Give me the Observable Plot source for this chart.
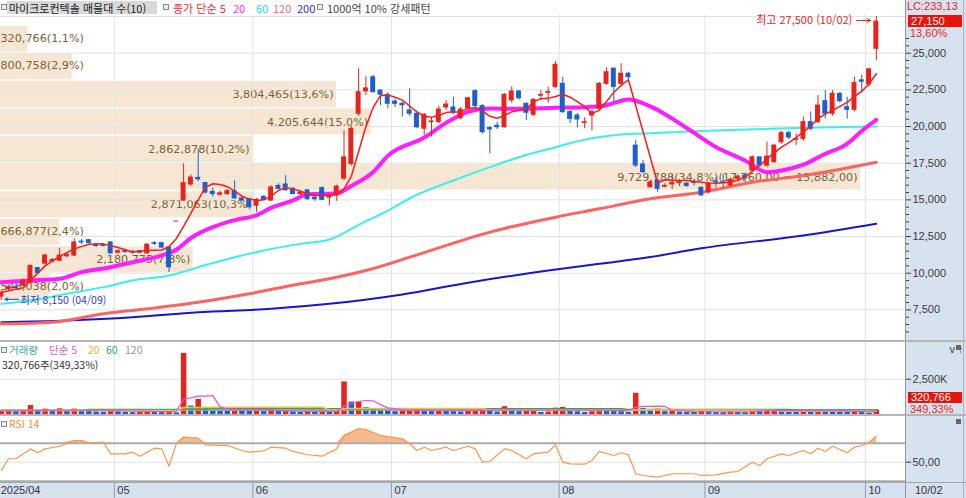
<!DOCTYPE html>
<html lang="ko">
<head>
<meta charset="utf-8">
<script src="https://cdn.jsdelivr.net/npm/d3@7"></script>
<script src="https://cdn.jsdelivr.net/npm/@observablehq/plot@0.6"></script>
<style>
html,body{margin:0;padding:0;background:#fff;}
#wrap{position:relative;width:966px;height:498px;overflow:hidden;background:#fff;font-family:'Liberation Sans',Arial,sans-serif;}
#wrap > *{position:absolute;}
.kr{font-family:'Noto Sans CJK KR','Noto Sans',sans-serif;font-size:11px;line-height:16px;white-space:nowrap;}
.kr2{font-family:'Noto Sans CJK KR','Noto Sans',sans-serif;font-size:10.5px;line-height:15px;white-space:nowrap;}
.num{font-family:'Liberation Sans',Arial,sans-serif;font-size:11px;line-height:13px;white-space:nowrap;}
.sq{width:4px;height:4px;border:1px solid #8a8a8a;background:#ececec;}
</style>
</head>
<body>
<div id="wrap"></div>
<script>
// ---------------- DATA ----------------
// trading days from 2025-04-09 (index 0) to 2025-10-02 (index 120)
const firstLabel = "2025/04";
const monthStarts = [16, 35, 54, 77, 97, 119];
const monthLabels = ["05", "06", "07", "08", "09", "10"];
const lastDateLabel = "10/02";
const hiDate = "10/02", loDate = "04/09";

const opens = [
 8400,8900,9050,9150,9350,10350,10650,10800,10850,11150,
 11200,12150,12250,11950,11900,12100,11400,11500,11450,11500,
 11350,12050,12050,11750,13520,14950,16050,16500,16150,15550,
 15350,15400,15600,15100,15050,14600,15200,14950,15950,16050,
 15750,15400,15650,15150,15800,15150,15300,16450,17450,20870,
 22400,23360,22450,22160,21700,21550,21100,20870,19850,20300,
 20300,21300,21300,20570,21250,22410,21390,19900,20050,19950,
 21780,22390,21550,20800,22100,22300,22700,22910,20980,20750,
 20250,20750,21210,22910,23940,22910,23600,18700,17410,15860,
 16320,15900,16050,16150,16100,16200,15820,15520,16250,16200,
 15980,16440,16650,17000,17900,17340,17570,18930,19550,19100,
 19160,20300,20300,21730,20870,22230,21320,21140,23150,22870,25300];
const highs = [
 8800,9150,9200,9600,10550,10400,11300,11000,11700,11350,
 12350,12300,12300,12000,12000,12150,11600,11600,11550,11550,
 12000,12150,12100,11800,13520,17460,16700,18480,16200,15800,
 15600,15700,16300,15200,15100,15100,15300,15950,16100,16650,
 15850,15600,15700,15300,15900,15400,16000,19700,20000,23940,
 23400,23500,22500,22300,21850,21650,22570,21000,20900,20600,
 21400,21770,22000,21300,22000,22500,21500,20000,20300,22250,
 22700,22450,21600,21900,22450,22700,24430,23360,21100,20900,
 20600,21100,23000,24000,24000,24280,23700,19050,17700,16300,
 16400,16100,16700,16400,16200,16400,15900,16200,16500,16700,
 16500,16700,16750,18000,17900,18930,18800,19650,19700,19500,
 20640,20980,22120,22460,22460,22300,22000,23360,23500,23950,27500];
const lows = [
 8150,8800,8900,9100,9300,9950,10550,10700,10800,11050,
 11150,11950,12000,11750,11800,11300,11300,11350,11300,11300,
 11300,11900,11700,10050,13520,14900,15900,16250,15400,15200,
 15250,15300,15050,14900,14450,14150,14950,14900,15700,15600,
 15350,15300,14950,14900,14950,14600,14900,16300,17300,20700,
 22100,22300,21430,21200,21300,20650,20700,19850,19400,19280,
 20200,21100,20800,20450,21100,21300,19500,18140,19800,19900,
 21600,21800,20400,20700,21800,21600,22600,20900,20200,19900,
 19850,19700,21100,22800,21660,22700,23000,17200,16800,15800,
 15520,15800,15700,15900,15850,15950,15250,15400,15800,15800,
 15900,16300,16200,16900,17250,17200,17500,18800,19100,18700,
 19000,19700,20200,20530,20700,21600,20500,21000,22300,22700,24500];
const closes = [
 8650,9050,8980,9450,10500,10000,11200,10900,11200,11250,
 12100,12100,12050,11850,11850,11350,11500,11450,11400,11400,
 11950,12000,11750,10400,13520,16140,16520,16400,15500,15400,
 15450,15600,15100,14950,14500,15000,15000,15850,15750,15650,
 15400,15500,15050,15050,15000,15300,15900,17900,19850,22340,
 22600,22340,22170,21550,21550,21450,20870,19950,20800,20350,
 21160,21500,20950,21150,21930,21390,19610,19800,19950,22160,
 22390,21930,20940,21820,22150,22350,24210,20980,20530,20480,
 20300,20980,22910,23700,22700,23600,23360,17340,16890,16200,
 15750,15950,16150,16200,15950,16150,15300,16100,16200,16150,
 16370,16590,16480,17900,17340,17950,18700,19550,19250,19150,
 20300,19840,21430,20870,22230,21730,21140,22960,23050,23900,27150];
// volume in thousands of shares
const volumes = [
 250,300,200,280,640,300,380,250,400,250,
 380,300,220,180,160,300,200,150,130,160,
 300,180,150,350,120,4330,600,1070,420,300,
 250,220,480,350,300,330,200,380,220,250,
 200,150,220,160,250,200,300,2310,880,890,
 480,400,300,280,200,250,300,350,300,200,
 280,220,200,180,220,280,400,300,180,550,
 300,200,250,280,150,180,450,500,250,200,
 150,200,380,300,280,250,150,1500,420,350,
 380,200,250,180,160,150,250,220,150,130,
 180,150,130,350,280,300,320,280,200,150,
 300,250,300,280,250,200,180,300,150,91.824,320.766];

// moving averages: [day index, value]
const ma5 = [[0,8700],[3,9000],[4,9500],[6,10500],[8,11150],[10,11660],[12,11980],[14,12000],[16,11750],[18,11450],[20,11550],[22,11580],[23,11800],[24,12350],[25,13200],[26,14100],[27,15000],[28,15850],[29,16100],[30,16050],[31,15900],[32,15600],[33,15250],[34,15050],[35,14960],[36,15000],[37,15250],[38,15640],[39,15850],[40,15750],[41,15600],[42,15400],[43,15300],[44,15300],[45,15300],[46,15380],[47,15750],[48,16600],[49,18300],[50,20000],[51,21300],[52,22100],[53,22160],[54,22000],[55,21800],[56,21400],[57,21000],[58,20700],[59,20640],[60,20770],[61,20950],[62,21010],[63,20980],[64,21250],[65,21280],[66,21050],[67,20700],[68,20570],[69,20750],[70,21000],[71,21090],[72,21200],[73,21700],[74,21890],[75,21920],[76,22050],[77,22200],[78,22000],[79,21700],[80,21350],[81,20900],[82,21100],[83,21700],[84,22340],[85,22800],[86,23190],[90,16150],[91,16370],[92,16330],[93,16320],[94,16320],[95,16250],[96,16200],[97,16150],[98,16140],[99,16170],[100,16200],[101,16350],[102,16550],[103,16950],[104,17350],[105,17800],[106,18200],[107,18600],[108,18900],[109,19250],[110,19650],[111,20000],[112,20550],[113,20850],[114,21100],[115,21380],[116,21650],[117,22050],[118,22400],[119,22900],[120,23600]];
const ma20 = [[0,9390],[4,9500],[8,9620],[11,10070],[15,10410],[18,10750],[22,11210],[24,11600],[26,12400],[29,13140],[32,13620],[35,13950],[37,14450],[40,14960],[42,15380],[46,15450],[48,15950],[51,16900],[53,18000],[58,19250],[61,20250],[64,21000],[67,21230],[71,21210],[76,21280],[80,21320],[83,21450],[86,21850],[89,21380],[94,19900],[98,18600],[102,17680],[105,16890],[107,17000],[110,17400],[113,18140],[116,18820],[118,19700],[120,20450]];
const ma60 = [[0,7910],[4,8140],[9,8600],[14,9050],[18,9500],[23,9840],[27,10410],[32,11090],[36,11550],[41,12000],[45,12300],[49,13300],[53,14270],[57,15350],[62,16320],[67,17230],[71,17910],[76,18590],[80,19100],[85,19450],[89,19550],[96,19700],[100,19770],[110,19910],[120,20000]];
const ma120 = [[0,6550],[7,6660],[14,7230],[20,7570],[27,8020],[34,8600],[41,9280],[45,9620],[50,10180],[57,11250],[67,12800],[76,13820],[82,14390],[89,15070],[96,15520],[103,16200],[110,16660],[120,17570]];
const ma200 = [[0,6660],[9,6780],[18,7000],[27,7340],[37,7570],[45,7910],[55,8550],[64,9350],[75,10180],[82,10640],[89,11100],[96,11700],[110,12570],[120,13370]];

// volume moving averages (thousands)
const vma5 = [[0,280],[10,300],[20,220],[23,200],[24,240],[25,1080],[26,1180],[27,1300],[28,1300],[29,1340],[30,540],[31,380],[32,340],[35,340],[40,240],[46,220],[47,600],[48,760],[49,920],[50,990],[51,970],[52,700],[53,470],[56,270],[60,280],[66,280],[69,330],[72,300],[76,300],[80,320],[84,290],[86,260],[87,520],[88,570],[89,570],[90,590],[91,570],[92,320],[95,200],[100,180],[103,210],[106,290],[110,250],[115,260],[119,180],[120,210]];
const vma20 = [[0,290],[24,280],[25,500],[44,520],[45,320],[46,310],[47,420],[66,430],[67,310],[86,280],[87,340],[106,300],[107,230],[120,230]];
const vma60 = [[0,290],[11,290],[12,350],[24,350],[25,410],[85,410],[86,360],[108,360],[109,320],[120,320]];
const vma120 = [[0,300],[60,310],[120,330]];

// RSI 14
const rsi = [[0,41.3],[1,53.6],[2,53.6],[4,64],[5,59.9],[6,64],[8,66.8],[10,72.8],[11,72.8],[12,70.4],[14,71],[15,58.8],[17,58.8],[18,60.5],[19,56.3],[21,64.7],[22,64],[23,45.8],[24,69.4],[25,76.3],[27,75.3],[28,68.3],[30,67.6],[31,67.6],[33,62.3],[34,60.5],[36,62],[37,65.8],[39,64.7],[40,61.3],[42,57.8],[44,56.3],[46,64],[47,78],[49,85.2],[50,84.4],[52,78],[55,74.6],[56,69.4],[57,62.3],[58,65.8],[59,62.3],[61,65.8],[62,62.3],[64,66.8],[65,64],[66,50],[67,50.7],[69,64],[70,62.3],[72,53.6],[73,58.8],[75,60.5],[76,68.3],[77,50],[78,48.3],[80,47.9],[81,51.8],[82,61.3],[84,57],[85,59.9],[86,57.8],[87,37.8],[88,36],[90,34.2],[92,37.8],[94,37.8],[95,37.8],[96,36],[98,36.7],[100,39.5],[101,40.2],[103,50],[104,46.5],[105,53.6],[107,58.8],[108,57],[110,62.3],[111,58.8],[112,64.7],[113,61.3],[114,66.8],[116,59.9],[117,65.8],[118,67.6],[119,70.4],[120,77.4]];

// volume profile (매물대): price edges, share volume, percent
const bandEdges = [8090, 9970, 11850, 13730, 15610, 17490, 19370, 21250, 23130, 25010, 26890];
const bandVolume = [548038, 2180775, 666877, 2871063, 9729788, 2862878, 4205644, 3804465, 800758, 320766];
const bandPct = [2.0, 7.8, 2.4, 10.3, 34.8, 10.2, 15.0, 13.6, 2.9, 1.1];
const maxBandRange = [17760, 15882];

const priceTicks = [7500, 10000, 12500, 15000, 17500, 20000, 22500, 25000];
const priceGrid = [7500, 10000, 12500, 15000, 17500, 20000, 22500, 25000, 27500];
const volTicks = [2500];
const rsiLevels = [70, 30];
const rsiMid = [50];

// ---------------- BUILD ----------------
const CJK = "'Noto Sans CJK KR','Noto Sans',sans-serif";
const LAT = "'Liberation Sans',Arial,sans-serif";
const RED = "#e8231b", BLUE = "#1b5fd1";
const GRID = "#e2e2e2";
const XD = [-0.11, 124.0];
const YD = [5412, 27638];
const fmt = d3.format(",");
const dec = (v, n) => v.toFixed(n).replace(".", ",");

const candles = opens.map((o, i) => ({i, o, h: highs[i], l: lows[i], c: closes[i], up: closes[i] >= o}));
const vols = volumes.map((v, i) => ({i, v, up: i === 0 || v >= volumes[i - 1]}));
const maxBand = d3.maxIndex(bandPct);
const bands = bandPct.map((p, k) => ({
  lo: bandEdges[k], hi: bandEdges[k + 1], pct: p,
  label: `${fmt(bandVolume[k])}(${dec(p, 1)}%)` + (k === maxBand ? `(${fmt(maxBandRange[0])},00 ~ ${fmt(maxBandRange[1])},00)` : "")
}));
const hiIdx = d3.maxIndex(highs), loIdx = d3.minIndex(lows);
const hiPt = [{i: hiIdx, v: highs[hiIdx]}], loPt = [{i: loIdx, v: lows[loIdx]}];
const bounds = [{b: -0.5, label: firstLabel}, ...monthStarts.map((s, k) => ({b: s - 0.5, label: monthLabels[k]}))];

const wrap = document.getElementById("wrap");
function box(style, html, cls) {
  const d = document.createElement("div");
  if (cls) d.className = cls;
  if (html) d.innerHTML = html;
  Object.assign(d.style, style);
  wrap.appendChild(d);
  return d;
}
function place(node, left, top) {
  node.style.position = "absolute"; node.style.left = left + "px"; node.style.top = top + "px";
  wrap.appendChild(node);
}
const txt = (left, top, color, s, cls) => box({left: left + "px", top: top + "px", color}, s, cls);
const sq = (left, top) => box({left: left + "px", top: top + "px"}, "", "sq");

// backgrounds
box({left: "905px", top: "0px", width: "61px", height: "498px", background: "#d7e2ef"});
box({left: "0px", top: "482px", width: "966px", height: "16px", background: "#d7e2ef"});
box({left: "905px", top: "0px", width: "1px", height: "498px", background: "#8d97a4"});
box({left: "963px", top: "0px", width: "1px", height: "498px", background: "#aab4c0"});
box({left: "0px", top: "340px", width: "966px", height: "2px", background: "#b5b5b5"});
box({left: "0px", top: "414px", width: "966px", height: "2px", background: "#b5b5b5"});
box({left: "0px", top: "482px", width: "966px", height: "1px", background: "#a0a8b4"});

const baseStyle = {background: "transparent", fontFamily: LAT, fontSize: "11px", color: "#3a3a3a", overflow: "visible"};
const ln = (data, stroke, w, curve) => Plot.line(data, {x: d => d[0], y: d => d[1], stroke, strokeWidth: w, curve: curve || "monotone-x"});

// volume profile (behind)
const bandPlot = Plot.plot({
  width: 905, height: 326, margin: 0,
  x: {domain: [0, 36.62], axis: null},
  y: {domain: YD, axis: null},
  style: {background: "transparent"},
  marks: [
    Plot.rect(bands, {x1: 0, x2: "pct", y1: "lo", y2: "hi", fill: "#f5e7d4", insetTop: 0.8, insetBottom: 0.8}),
    Plot.text(bands.filter(d => d.pct < 5), {x: 0, y: d => (d.lo + d.hi) / 2, text: "label", textAnchor: "start", dy: -1, fill: "#7b6238", fontFamily: "DejaVu Sans", fontSize: 11.2}),
    Plot.text(bands.filter(d => d.pct >= 5), {x: "pct", y: d => (d.lo + d.hi) / 2, text: "label", textAnchor: "end", dx: -3, fill: "#7b6238", fontFamily: "DejaVu Sans", fontSize: 11.2})
  ]
});
place(bandPlot, 0, 14);

// main price chart
const main = Plot.plot({
  width: 966, height: 326, marginTop: 0, marginBottom: 0, marginLeft: 0, marginRight: 61,
  x: {domain: XD, axis: null},
  y: {domain: YD},
  color: {type: "identity"},
  style: baseStyle,
  marks: [
    Plot.ruleY(priceGrid, {stroke: GRID}),
    Plot.ruleX(monthStarts, {x: d => d - 0.5, stroke: GRID}),
    ln(ma200, "#1616d0", 2),
    ln(ma120, "#ff6262", 3),
    ln(ma60, "#3cefef", 2),
    ln(ma20, "#ff1cff", 4),
    Plot.ruleX(candles, {x: "i", y1: "l", y2: "h", stroke: d => d.up ? RED : BLUE, strokeWidth: 1}),
    Plot.rect(candles, {x1: d => d.i - 0.34, x2: d => d.i + 0.34, y1: "o", y2: "c", fill: d => d.up ? RED : BLUE, insetTop: -0.5, insetBottom: -0.5}),
    ln(ma5, "#ff1a1a", 1.5, "linear"),
    Plot.text(hiPt, {x: "i", y: "v", text: d => `최고 ${fmt(d.v)} (${hiDate})`, textAnchor: "end", dx: -24, dy: 4, fill: "#e8261c", fontFamily: CJK, fontSize: 11}),
    Plot.arrow(hiPt, {x1: d => d.i - 2.7, x2: d => d.i - 0.8, y1: "v", y2: "v", dy: 4, stroke: "#e8261c", strokeWidth: 1, headLength: 6}),
    Plot.text(loPt, {x: "i", y: "v", text: d => `최저 ${fmt(d.v)} (${loDate})`, textAnchor: "start", dx: 19, dy: 0.5, fill: "#2b3fd6", fontFamily: CJK, fontSize: 10.5}),
    Plot.arrow(loPt, {x1: d => d.i + 2.35, x2: d => d.i + 0.5, y1: "v", y2: "v", dy: -1, stroke: "#2b3fd6", strokeWidth: 1, headLength: 5}),
    Plot.axisY(priceTicks, {anchor: "right", tickSize: 5, tickPadding: 2, tickFormat: fmt}),
    Plot.axisY(d3.range(6000, 26001, 500).filter(v => v % 2500 !== 0), {anchor: "right", tickSize: 3, tickFormat: () => ""})
  ]
});
place(main, 0, 14);

// volume panel
const VT = 342;
const volPlot = Plot.plot({
  width: 966, height: 73, marginTop: 0, marginBottom: 1, marginLeft: 0, marginRight: 61,
  x: {domain: XD, axis: null},
  y: {domain: [0, 5100]},
  color: {type: "identity"},
  style: baseStyle,
  marks: [
    Plot.ruleY(volTicks, {stroke: GRID}),
    Plot.ruleX(monthStarts, {x: d => d - 0.5, stroke: GRID}),
    Plot.ruleX(vols, {x: "i", y1: 0, y2: "v", stroke: d => d.up ? RED : BLUE, strokeWidth: 5.5}),
    ln(vma120, "#a0a0a0", 1.5, "linear"),
    ln(vma60, "#35a35a", 1.5, "linear"),
    ln(vma20, "#f5bd3c", 1.5, "linear"),
    ln(vma5, "#e654e6", 1.2, "linear"),
    Plot.axisY(volTicks, {anchor: "right", tickSize: 5, tickPadding: 2, tickFormat: d => fmt(d) + "K"})
  ]
});
place(volPlot, 0, VT);

// RSI panel
const RT = 416;
const rsiPlot = Plot.plot({
  width: 966, height: 66, margin: 0, marginRight: 61,
  x: {domain: XD, axis: null},
  y: {domain: [28.6, 98.1]},
  style: baseStyle,
  marks: [
    Plot.ruleY(rsiMid, {stroke: GRID}),
    Plot.ruleX(monthStarts, {x: d => d - 0.5, stroke: GRID}),
    Plot.areaY(rsi, {x: d => d[0], y1: 70, y2: d => Math.max(70, d[1]), fill: "#f6ba8e"}),
    Plot.ruleY(rsiLevels, {stroke: "#ababab", strokeWidth: 2}),
    Plot.line(rsi, {x: d => d[0], y: d => d[1], stroke: "#ff9448", strokeWidth: 1.2}),
    Plot.axisY(rsiMid, {anchor: "right", tickSize: 5, tickPadding: 2, tickFormat: d => dec(d, 2)})
  ]
});
place(rsiPlot, 0, RT);

// date strip
const axisPlot = Plot.plot({
  width: 966, height: 16, margin: 0, marginRight: 61,
  x: {domain: XD, axis: null},
  style: baseStyle,
  marks: [
    Plot.ruleX(bounds, {x: "b", stroke: "#8f9cad"}),
    Plot.text(bounds, {x: "b", text: "label", textAnchor: "start", dx: 3, frameAnchor: "middle", fill: "#333", fontSize: 11})
  ]
});
place(axisPlot, 0, 482);
txt(915, 484, "#333", lastDateLabel, "num");

// header legend
box({left: "7px", top: "1px", width: "150px", height: "13px", background: "#d9d9d9"});
sq(1, 4);
txt(9, 0, "#222", "마이크로컨텍솔 매물대 수(10)", "kr");
sq(163, 4);
txt(173, 0, "#ff2a2a", "종가 단순 5", "kr");
txt(233, 0, "#ff22ff", "20", "kr");
txt(256, 0, "#22dede", "60", "kr");
txt(273, 0, "#ff6a6a", "120", "kr");
txt(297, 0, "#2a2aff", "200", "kr");
sq(317, 4);
txt(327, 0, "#444", "1000억 10% 강세패턴", "kr");

// right-side price labels
const yMain = main.scale("y");
const cY = 14 + yMain.apply(closes[closes.length - 1]);
const chg = (closes[closes.length - 1] / closes[closes.length - 2] - 1) * 100;
txt(907, 0, "#e8261c", "LC:233,13", "num");
box({left: "908px", top: (cY - 6) + "px", width: "54px", height: "12px", background: "#e8140c"});
txt(911, cY - 6.5, "#fff", fmt(closes[closes.length - 1]), "num");
txt(910, cY + 5.5, "#e8261c", dec(chg, 2) + "%", "num");

// volume legend + last volume box
const lastV = volumes[volumes.length - 1], prevV = volumes[volumes.length - 2];
sq(1, VT + 5);
txt(9, VT, "#3aa9a9", "거래량", "kr2");
txt(49, VT, "#e654e6", "단순 5", "kr2");
txt(88, VT, "#f0b428", "20", "kr2");
txt(106, VT, "#35a35a", "60", "kr2");
txt(125, VT, "#9a9a9a", "120", "kr2");
txt(2, VT + 15, "#333", `${fmt(Math.round(lastV * 1000))}주(${dec(lastV / prevV * 100, 2)}%)`, "kr2");
box({left: "908px", top: "392px", width: "54px", height: "11px", background: "#e8140c"});
txt(911, 391, "#fff", fmt(Math.round(lastV * 1000)), "num");
txt(910, 402.5, "#e8261c", dec(lastV / prevV * 100, 2) + "%", "num");
box({left: "956px", top: (VT + 3) + "px", background: "#666", width: "5px", height: "5px"});

// RSI legend
sq(1, RT + 5);
txt(9, RT, "#ff8a3a", "RSI 14", "kr2");
box({left: "956px", top: (RT + 3) + "px", background: "#666", width: "5px", height: "5px"});
</script>
</body>
</html>
